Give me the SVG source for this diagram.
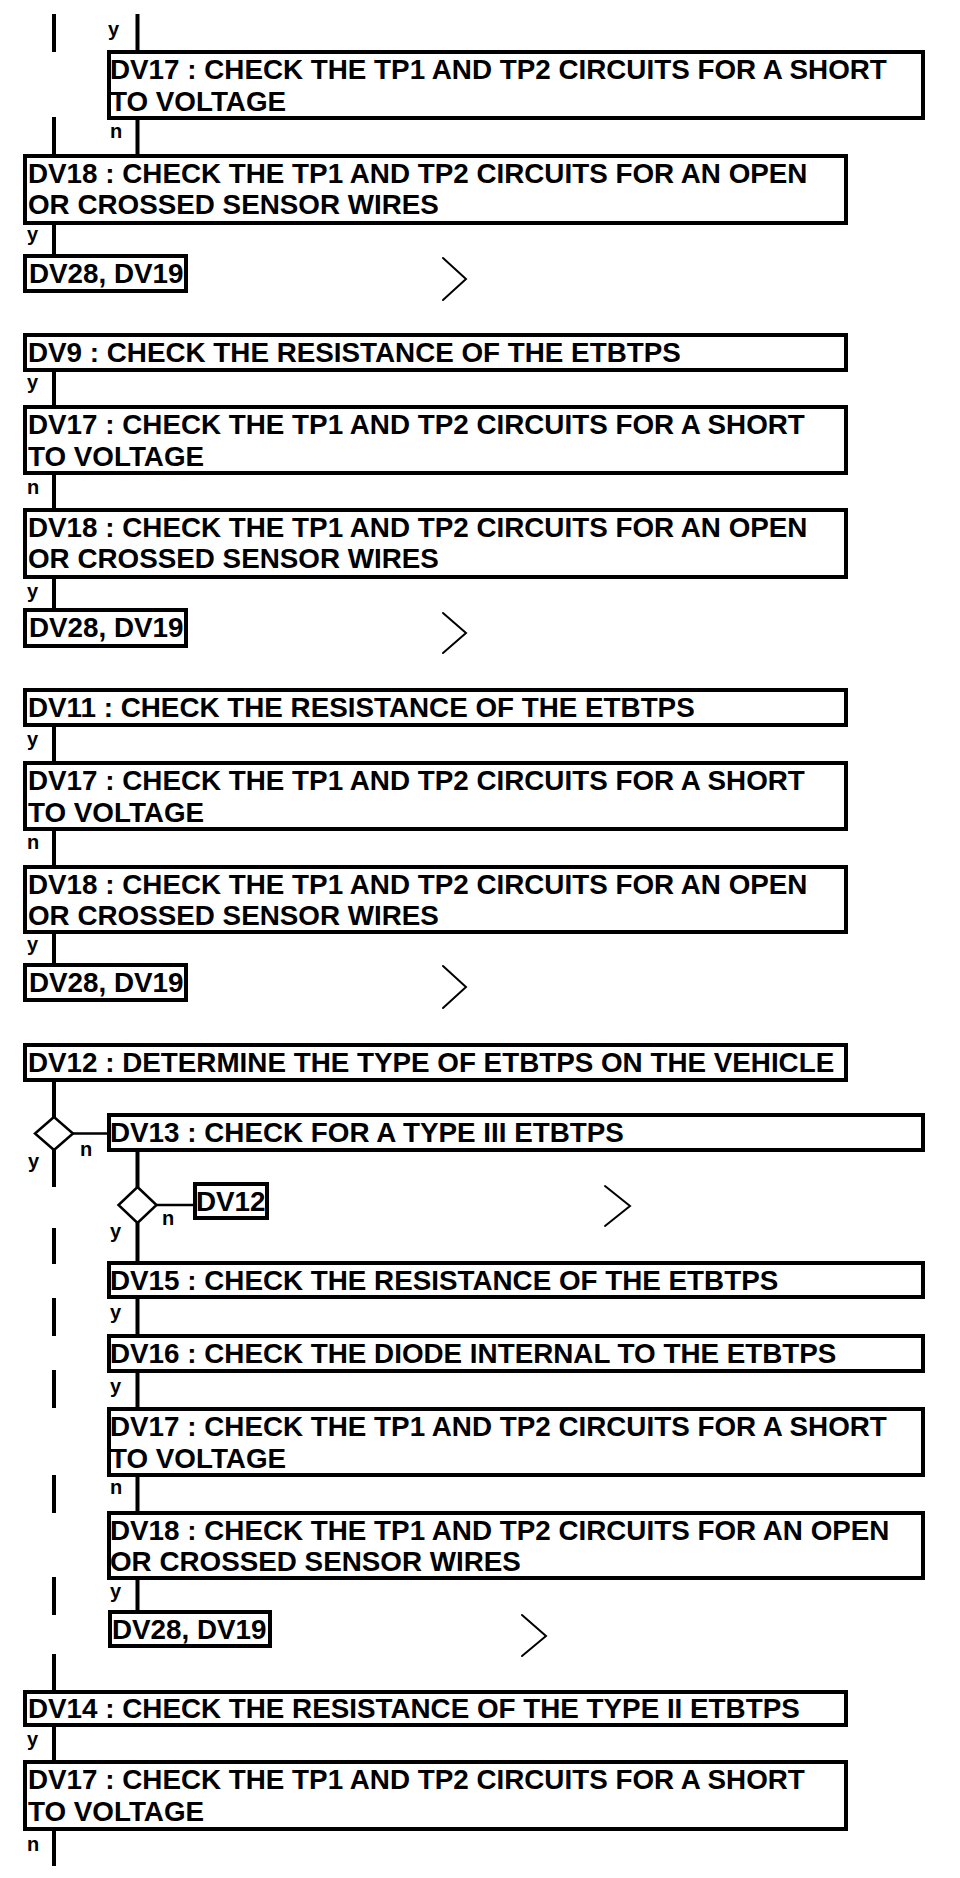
<svg xmlns="http://www.w3.org/2000/svg" width="960" height="1878" viewBox="0 0 960 1878">
<style>
.box{fill:#fff;stroke:#000;stroke-width:4}
.t{font-family:"Liberation Sans",Arial,sans-serif;font-weight:bold;font-size:27.8px;fill:#000}
.l{font-family:"Liberation Sans",Arial,sans-serif;font-weight:bold;font-size:20px;fill:#000}
.c{stroke:#000;stroke-width:4;fill:none}
.thin{stroke:#000;stroke-width:2.5;fill:none}
.chev{stroke:#000;stroke-width:2;fill:none;stroke-linecap:round;stroke-linejoin:miter}
</style>
<rect width="960" height="1878" fill="#fff"/>
<g id="connectors">
<path class="c" d="M54 14V52M54 117V154M54 225V254M54 371V405M54 475V508M54 579V608M54 727V761M54 831V865M54 933V963M54 1081V1117M54 1150V1187M54 1228V1264M54 1298V1336M54 1370V1408M54 1475V1513M54 1577V1615M54 1654V1690M54 1727V1760M54 1831V1866"/>
<path class="c" d="M137.5 14V50M137.5 120V154M137.5 1152V1187M137.5 1223V1261M137.5 1299V1334M137.5 1373V1407M137.5 1477V1511M137.5 1580V1610"/>
<path class="thin" d="M73 1133.5H107M156.5 1205H193"/>
<polygon id="d1" class="thin" points="54,1117 73,1133.5 54,1150 35,1133.5"/>
<polygon id="d2" class="thin" points="137.5,1187 156.5,1205 137.5,1223 118.5,1205"/>
<polyline class="chev" points="443,258 466,279 443,300"/>
<polyline class="chev" points="443,613 466,633 443,653"/>
<polyline class="chev" points="443,966 466,987 443,1008"/>
<polyline class="chev" points="605,1186 630,1206 605,1226"/>
<polyline class="chev" points="522,1615 546,1636 522,1656"/>
<text class="l" x="108" y="36">y</text>
<text class="l" x="110" y="138">n</text>
<text class="l" x="27" y="241">y</text>
<text class="l" x="27" y="389">y</text>
<text class="l" x="27" y="494">n</text>
<text class="l" x="27" y="598">y</text>
<text class="l" x="27" y="746">y</text>
<text class="l" x="27" y="849">n</text>
<text class="l" x="27" y="951">y</text>
<text class="l" x="80" y="1156">n</text>
<text class="l" x="28" y="1168">y</text>
<text class="l" x="162" y="1225">n</text>
<text class="l" x="110" y="1238">y</text>
<text class="l" x="110" y="1319">y</text>
<text class="l" x="110" y="1393">y</text>
<text class="l" x="110" y="1494">n</text>
<text class="l" x="110" y="1598">y</text>
<text class="l" x="27" y="1746">y</text>
<text class="l" x="27" y="1851">n</text>
</g>
<g id="n1"><rect class="box" x="109" y="52" width="814" height="66"/><text class="t" x="110" y="79">DV17 : CHECK THE TP1 AND TP2 CIRCUITS FOR A SHORT</text><text class="t" x="110" y="111">TO VOLTAGE</text></g>
<g id="n2"><rect class="box" x="25" y="156" width="821" height="67"/><text class="t" x="28" y="183">DV18 : CHECK THE TP1 AND TP2 CIRCUITS FOR AN OPEN</text><text class="t" x="28" y="214">OR CROSSED SENSOR WIRES</text></g>
<g id="n3"><rect class="box" x="25" y="256" width="161" height="35"/><text class="t" x="29" y="283">DV28, DV19</text></g>
<g id="n4"><rect class="box" x="25" y="335" width="821" height="35"/><text class="t" x="28" y="362">DV9 : CHECK THE RESISTANCE OF THE ETBTPS</text></g>
<g id="n5"><rect class="box" x="25" y="407" width="821" height="66"/><text class="t" x="28" y="434">DV17 : CHECK THE TP1 AND TP2 CIRCUITS FOR A SHORT</text><text class="t" x="28" y="466">TO VOLTAGE</text></g>
<g id="n6"><rect class="box" x="25" y="510" width="821" height="67"/><text class="t" x="28" y="537">DV18 : CHECK THE TP1 AND TP2 CIRCUITS FOR AN OPEN</text><text class="t" x="28" y="568">OR CROSSED SENSOR WIRES</text></g>
<g id="n7"><rect class="box" x="25" y="610" width="161" height="36"/><text class="t" x="29" y="637">DV28, DV19</text></g>
<g id="n8"><rect class="box" x="25" y="690" width="821" height="35"/><text class="t" x="28" y="717">DV11 : CHECK THE RESISTANCE OF THE ETBTPS</text></g>
<g id="n9"><rect class="box" x="25" y="763" width="821" height="66"/><text class="t" x="28" y="790">DV17 : CHECK THE TP1 AND TP2 CIRCUITS FOR A SHORT</text><text class="t" x="28" y="822">TO VOLTAGE</text></g>
<g id="n10"><rect class="box" x="25" y="867" width="821" height="65"/><text class="t" x="28" y="894">DV18 : CHECK THE TP1 AND TP2 CIRCUITS FOR AN OPEN</text><text class="t" x="28" y="925">OR CROSSED SENSOR WIRES</text></g>
<g id="n11"><rect class="box" x="25" y="965" width="161" height="35"/><text class="t" x="29" y="992">DV28, DV19</text></g>
<g id="n12"><rect class="box" x="25" y="1045" width="821" height="35"/><text class="t" x="28" y="1072">DV12 : DETERMINE THE TYPE OF ETBTPS ON THE VEHICLE</text></g>
<g id="n13"><rect class="box" x="109" y="1115" width="814" height="35"/><text class="t" x="110" y="1142">DV13 : CHECK FOR A TYPE III ETBTPS</text></g>
<g id="n14"><rect class="box" x="195" y="1184" width="72" height="34"/><text class="t" x="196" y="1211">DV12</text></g>
<g id="n15"><rect class="box" x="109" y="1263" width="814" height="34"/><text class="t" x="110" y="1290">DV15 : CHECK THE RESISTANCE OF THE ETBTPS</text></g>
<g id="n16"><rect class="box" x="109" y="1336" width="814" height="35"/><text class="t" x="110" y="1363">DV16 : CHECK THE DIODE INTERNAL TO THE ETBTPS</text></g>
<g id="n17"><rect class="box" x="109" y="1409" width="814" height="66"/><text class="t" x="110" y="1436">DV17 : CHECK THE TP1 AND TP2 CIRCUITS FOR A SHORT</text><text class="t" x="110" y="1468">TO VOLTAGE</text></g>
<g id="n18"><rect class="box" x="109" y="1513" width="814" height="65"/><text class="t" x="110" y="1540">DV18 : CHECK THE TP1 AND TP2 CIRCUITS FOR AN OPEN</text><text class="t" x="110" y="1571">OR CROSSED SENSOR WIRES</text></g>
<g id="n19"><rect class="box" x="110" y="1612" width="160" height="34"/><text class="t" x="112" y="1639">DV28, DV19</text></g>
<g id="n20"><rect class="box" x="25" y="1692" width="821" height="33"/><text class="t" x="28" y="1718">DV14 : CHECK THE RESISTANCE OF THE TYPE II ETBTPS</text></g>
<g id="n21"><rect class="box" x="25" y="1762" width="821" height="67"/><text class="t" x="28" y="1789">DV17 : CHECK THE TP1 AND TP2 CIRCUITS FOR A SHORT</text><text class="t" x="28" y="1821">TO VOLTAGE</text></g>
</svg>
